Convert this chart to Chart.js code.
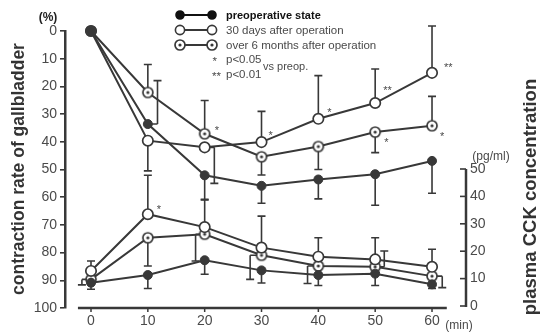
<!DOCTYPE html>
<html><head><meta charset="utf-8">
<script src="https://cdn.jsdelivr.net/npm/chart.js@4.4.0/dist/chart.umd.min.js"></script>
<style>html,body{margin:0;padding:0;background:#fff}#wrap{width:544px;height:332px;position:relative}</style>
</head><body><div id="wrap"><canvas id="c"></canvas></div>
<script>
// ---- data ----
const minutes = [0, 10, 20, 30, 40, 50, 60];
const xTicks = [0, 10, 20, 30, 40, 50, 60];
const leftTicks = [0, 10, 20, 30, 40, 50, 60, 70, 80, 90, 100];
const rightTicks = [0, 10, 20, 30, 40, 50];

// contraction rate of gallbladder (%)
const contrPreop = [0, 33.6, 52.1, 55.9, 53.6, 51.7, 46.9];
const contr30d   = [0, 39.6, 42.0, 40.1, 31.7, 26.0, 15.1];
const contr6m    = [0, 22.2, 37.1, 45.4, 41.7, 36.5, 34.2];
// error bar end values
const contrPreopErr = [null, 17.9, 61.0, 62.2, 60.6, 62.9, 58.6];
const contr30dErr   = [null, 50.5, 55.0, 29.0, 16.1, 13.7, -1.8];
const contr6mErr    = [null, 12.1, 25.1, 52.0, 50.0, 43.9, 23.6];
const contr30dSig = ['', '', '', '*', '*', '**', '**'];
const contr6mSig  = ['', '', '*', '', '', '*', '*'];

// plasma CCK concentration (pg/ml)
const cckPreop = [8.5, 11.3, 16.7, 13.0, 11.3, 11.8, 7.9];
const cck30d   = [12.8, 33.5, 28.8, 21.3, 18.0, 17.0, 14.3];
const cck6m    = [9.7, 24.9, 26.2, 18.5, 14.6, 14.3, 10.9];
const cckPreopErr = [6.1, 6.4, 11.6, 8.4, 7.5, 7.5, 6.4];
const cck30dErr   = [16.4, 47.7, 38.9, 32.8, 24.9, 24.9, 20.7];
const cck6mErr    = [7.7, 14.6, 16.4, 9.7, 8.2, 20.1, 6.7];
const cck30dSig = ['', '*', '', '', '', '', ''];
const noSig = ['', '', '', '', '', '', ''];

// ---- styles ----
const INK = '#383838';
const TXT = '#4a4a4a';
const FONT = "'Liberation Sans', Arial, sans-serif";

function dotCircle() {
  const c = document.createElement('canvas');
  c.width = 14; c.height = 14;
  const g = c.getContext('2d');
  g.beginPath(); g.arc(7, 7, 5, 0, Math.PI * 2);
  g.fillStyle = '#fff'; g.fill();
  g.lineWidth = 1.7; g.strokeStyle = INK; g.stroke();
  g.beginPath(); g.arc(7, 7, 1.6, 0, Math.PI * 2);
  g.fillStyle = INK; g.fill();
  return c;
}
const dotImg = dotCircle();

const styleFilled = { pointStyle: 'circle', pointRadius: 4.5, pointBackgroundColor: INK, pointBorderColor: INK, pointBorderWidth: 1 };
const styleOpen   = { pointStyle: 'circle', pointRadius: 5.2, pointBackgroundColor: '#fff', pointBorderColor: INK, pointBorderWidth: 1.7 };
const styleDot    = { pointStyle: dotImg, pointRadius: 5 };

function pts(vals) { return minutes.map((m, i) => ({ x: m, y: vals[i] })); }

function ds(label, vals, err, sig, axis, st, extra) {
  return Object.assign({
    label, data: pts(vals), yAxisID: axis, borderColor: INK, borderWidth: 2,
    tension: 0, fill: false, errEnd: err, sig: sig, clip: false
  }, st, extra || {});
}

const datasets = [
  ds('preoperative state', contrPreop, contrPreopErr, noSig, 'y', styleFilled,
     { errShift: [0, 1.7, 0, 0, 0, 0, 0] }),
  ds('30 days after operation', contr30d, contr30dErr, contr30dSig, 'y', styleOpen,
     { errShift: [0, 0, 1.7, 0, 0, 0, 0], starOff: [[0,0],[0,0],[0,0],[7,-9],[9,-9],[8,-15],[12,-8]] }),
  ds('over 6 months after operation', contr6m, contr6mErr, contr6mSig, 'y', styleDot,
     { starOff: [[0,0],[0,0],[10,-6],[0,0],[0,0],[9,8],[8,8]] }),
  ds('preoperative state CCK', cckPreop, cckPreopErr, noSig, 'y2', styleFilled, {}),
  ds('30 days after operation CCK', cck30d, cck30dErr, cck30dSig, 'y2', styleOpen,
     { starOff: [[0,0],[9,-7],[0,0],[0,0],[0,0],[0,0],[0,0]] }),
  ds('over 6 months after operation CCK', cck6m, cck6mErr, noSig, 'y2', styleDot,
     { errShift: [-1.6, 0, -1.6, -2.0, -1.9, 1.6, 1.8] })
];

const decor = {
  id: 'decor',
  beforeDatasetsDraw(chart) {
    const ctx = chart.ctx, xs = chart.scales.x;
    ctx.save();
    ctx.strokeStyle = INK; ctx.lineWidth = 1.6;
    chart.data.datasets.forEach(d => {
      const ys = chart.scales[d.yAxisID];
      d.data.forEach((p, i) => {
        const e = d.errEnd[i];
        if (e === null || e === undefined) return;
        const sh = d.errShift ? d.errShift[i] : 0;
        const px = xs.getPixelForValue(p.x), py = ys.getPixelForValue(p.y);
        const bx = xs.getPixelForValue(p.x + sh), ey = ys.getPixelForValue(e);
        ctx.beginPath();
        if (sh) { ctx.moveTo(px, py); ctx.lineTo(bx, py); }
        ctx.moveTo(bx, py); ctx.lineTo(bx, ey);
        ctx.moveTo(bx - 4, ey); ctx.lineTo(bx + 4, ey);
        ctx.stroke();
      });
    });
    ctx.restore();
  },
  afterDatasetsDraw(chart) {
    const ctx = chart.ctx, xs = chart.scales.x, ca = chart.chartArea;
    ctx.save();
    // stars
    ctx.fillStyle = TXT; ctx.font = '11px ' + FONT; ctx.textBaseline = 'middle'; ctx.textAlign = 'left';
    chart.data.datasets.forEach(d => {
      const ys = chart.scales[d.yAxisID];
      d.data.forEach((p, i) => {
        const s = d.sig[i]; if (!s) return;
        const o = d.starOff[i];
        ctx.fillText(s, xs.getPixelForValue(p.x) + o[0], ys.getPixelForValue(p.y) + o[1] + 3);
      });
    });
    // x axis line
    const y0 = ca.bottom;
    ctx.strokeStyle = INK; ctx.lineWidth = 2.5;
    ctx.beginPath();
    ctx.moveTo(xs.getPixelForValue(-2.3), y0); ctx.lineTo(xs.getPixelForValue(62.6), y0);
    ctx.stroke();
    ctx.lineWidth = 1.5;
    xTicks.forEach(t => {
      const x = xs.getPixelForValue(t);
      ctx.beginPath(); ctx.moveTo(x, y0); ctx.lineTo(x, y0 + 4); ctx.stroke();
    });
    // right axis
    const r = chart.scales.y2, rx = ca.right;
    ctx.lineWidth = 2.5;
    ctx.beginPath(); ctx.moveTo(rx, r.getPixelForValue(0) + 1); ctx.lineTo(rx, r.getPixelForValue(50)); ctx.stroke();
    ctx.lineWidth = 1.6;
    rightTicks.forEach(v => {
      const y = r.getPixelForValue(v);
      ctx.beginPath(); ctx.moveTo(rx - 6, y); ctx.lineTo(rx, y); ctx.stroke();
    });
    // units
    ctx.fillStyle = '#222'; ctx.font = 'bold 12px ' + FONT; ctx.textAlign = 'center';
    ctx.fillText('(%)', 48, 18);
    ctx.fillStyle = TXT; ctx.font = '12px ' + FONT;
    ctx.fillText('(pg/ml)', 491, 157);
    ctx.fillText('(min)', 459, 326);
    // axis titles
    ctx.fillStyle = '#333'; ctx.font = 'bold 17.5px ' + FONT;
    ctx.save(); ctx.translate(19, 169); ctx.rotate(-Math.PI / 2); ctx.fillText('contraction rate of gallbladder', 0, 0); ctx.restore();
    ctx.font = 'bold 18.5px ' + FONT;
    ctx.save(); ctx.translate(531, 197); ctx.rotate(-Math.PI / 2); ctx.fillText('plasma CCK concentration', 0, 0); ctx.restore();
    // legend
    const rows = [
      { y: 15, st: 'filled', text: 'preoperative state', bold: true },
      { y: 30, st: 'open', text: '30 days after operation' },
      { y: 45, st: 'dot', text: 'over 6 months after operation' }
    ];
    ctx.textAlign = 'left';
    rows.forEach(rw => {
      ctx.strokeStyle = rw.bold ? '#111' : INK; ctx.lineWidth = 2;
      ctx.beginPath(); ctx.moveTo(180, rw.y); ctx.lineTo(212, rw.y); ctx.stroke();
      [180, 212].forEach(mx => {
        if (rw.st === 'dot') { ctx.drawImage(dotImg, mx - 7, rw.y - 7); return; }
        ctx.beginPath(); ctx.arc(mx, rw.y, rw.st === 'filled' ? 4 : 4.6, 0, Math.PI * 2);
        ctx.fillStyle = rw.st === 'filled' ? '#111' : '#fff'; ctx.fill();
        ctx.lineWidth = 1.6; ctx.strokeStyle = rw.bold ? '#111' : INK; ctx.stroke();
      });
      ctx.fillStyle = rw.bold ? '#111' : TXT;
      ctx.font = rw.bold ? 'bold 11px ' + FONT : '11.5px ' + FONT;
      ctx.fillText(rw.text, 226, rw.y + 1);
    });
    ctx.fillStyle = TXT; ctx.font = '11.5px ' + FONT;
    ctx.textAlign = 'right';
    ctx.fillText('*', 217, 62); ctx.fillText('**', 221, 77);
    ctx.textAlign = 'left';
    ctx.fillText('p<0.05', 226, 60); ctx.fillText('p<0.01', 226, 75);
    ctx.font = '11px ' + FONT;
    ctx.fillText('vs preop.', 263, 67);
    ctx.restore();
  }
};

new Chart(document.getElementById('c'), {
  type: 'line',
  data: { datasets },
  options: {
    responsive: true, maintainAspectRatio: false, animation: false,
    layout: { padding: { top: 31, left: 0, right: 0, bottom: 0 } },
    plugins: { legend: { display: false }, tooltip: { enabled: false } },
    scales: {
      x: {
        type: 'linear', min: -4.575, max: 65.98,
        afterBuildTicks: s => { s.ticks = xTicks.map(v => ({ value: v })); },
        afterFit: s => { s.height = 24; },
        grid: { display: false, drawTicks: false }, border: { display: false },
        ticks: { padding: 5, color: TXT, font: { family: FONT, size: 14 } }
      },
      y: {
        position: 'left', min: 0, max: 100, reverse: true,
        afterBuildTicks: s => { s.ticks = leftTicks.map(v => ({ value: v })); },
        afterFit: s => { s.width = 65; },
        grid: { drawOnChartArea: false, drawTicks: true, tickLength: 5, color: INK, lineWidth: 1.6 },
        border: { display: true, color: INK, width: 2.5 },
        ticks: { padding: 3, color: TXT, font: { family: FONT, size: 14 } }
      },
      y2: {
        position: 'right', min: -0.73, max: 100.37,
        afterBuildTicks: s => { s.ticks = rightTicks.map(v => ({ value: v })); },
        afterFit: s => { s.width = 78; },
        grid: { display: false, drawTicks: false }, border: { display: false },
        ticks: { padding: 4, color: TXT, font: { family: FONT, size: 14 } }
      }
    }
  },
  plugins: [decor]
});
</script>
</body></html>
